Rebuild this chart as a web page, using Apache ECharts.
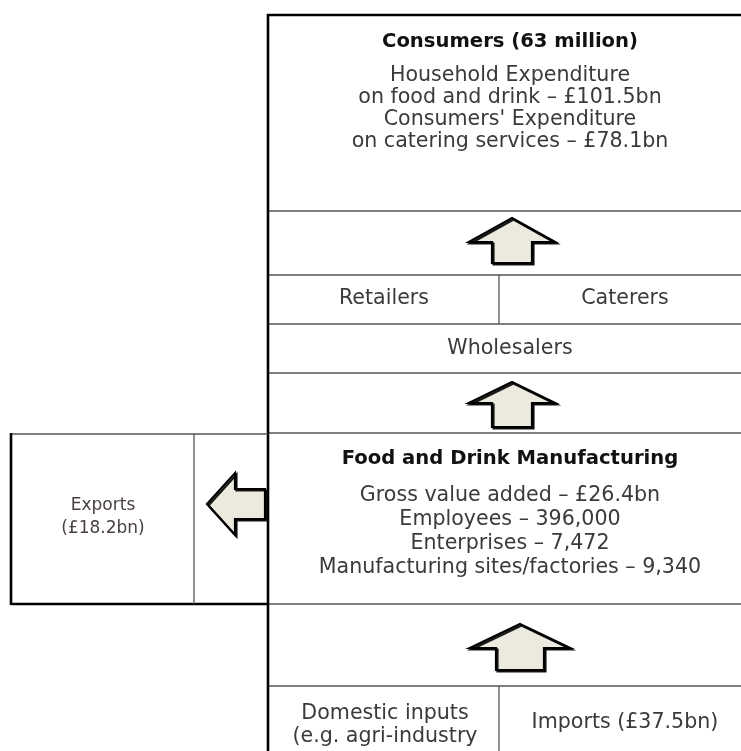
<!DOCTYPE html>
<html><head><meta charset="utf-8">
<script src="https://cdn.jsdelivr.net/npm/echarts@6/dist/echarts.min.js"></script>
<style>html,body{margin:0;padding:0;background:#fff}#c{width:741px;height:751px}</style>
</head><body><div id="c"></div><script>
// ---- text content ----
const consumersTitle = 'Consumers (63 million)';
const consumersLines = ['Household Expenditure', 'on food and drink \u2013 \u00a3101.5bn', "Consumers' Expenditure", 'on catering services \u2013 \u00a378.1bn'];
const channelLabels = ['Retailers', 'Caterers', 'Wholesalers'];
const manufTitle = 'Food and Drink Manufacturing';
const manufLines = ['Gross value added \u2013 \u00a326.4bn', 'Employees \u2013 396,000', 'Enterprises \u2013 7,472', 'Manufacturing sites/factories \u2013 9,340'];
const exportLines = ['Exports', '(\u00a318.2bn)'];
const inputLines = ['Domestic inputs', '(e.g. agri-industry', 'Imports (\u00a337.5bn)'];

// ---- diagram layout (diagram units on hidden value axes) ----
// frame segments: [x0, y0, x1, y1, heavy]
const frameSegments = [
  [267, 15, 760, 15, 1],
  [268, 211, 760, 211, 0],
  [268, 275, 760, 275, 0],
  [268, 324, 760, 324, 0],
  [268, 373, 760, 373, 0],
  [268, 433, 760, 433, 0],
  [268, 604, 760, 604, 0],
  [268, 686, 760, 686, 0],
  [268, 14, 268, 760, 1],
  [499, 275, 499, 324, 0],
  [499, 686, 499, 760, 0],
  [11, 434, 268, 434, 0],
  [11, 604, 268, 604, 1],
  [11, 433, 11, 605, 1],
  [194, 434, 194, 604, 0]
];
// up arrows: [cx, tipY, headBaseY, bottomY, headHalfW, shaftHalfW]
const upArrows = [
  [512, 218, 242, 263, 43, 20],
  [512, 382, 403, 427, 43, 20],
  [520, 624, 648, 670, 50, 24]
];
// left arrows: [tipX, cy, headBaseX, tailX, headHalfH, shaftHalfH]
const leftArrows = [
  [207, 504, 235, 265, 31, 15]
];
// text anchors: [x, y]
const consumersTitlePos = [510, 42];
const consumersLinePos = [[510, 76], [510, 98], [510, 120], [510, 142]];
const channelPos = [[384, 299], [625, 299], [510, 349]];
const manufTitlePos = [510, 459];
const manufLinePos = [[510, 496], [510, 520], [510, 544], [510, 568]];
const exportPos = [[103, 506], [103, 529]];
const inputPos = [[385, 714], [385, 737], [625, 723]];

// build text items
const textItems = [];
function addText(str, pos, kind) { textItems.push({ value: [pos[0], pos[1]], text: str, kind: kind }); }
addText(consumersTitle, consumersTitlePos, 'title');
consumersLines.forEach((s, i) => addText(s, consumersLinePos[i], 'body'));
channelLabels.forEach((s, i) => addText(s, channelPos[i], 'body'));
addText(manufTitle, manufTitlePos, 'title');
manufLines.forEach((s, i) => addText(s, manufLinePos[i], 'body'));
exportLines.forEach((s, i) => addText(s, exportPos[i], 'small'));
inputLines.forEach((s, i) => addText(s, inputPos[i], 'body'));

const textStyles = {
  title: { font: 'bold 19.6px "DejaVu Sans", sans-serif', fill: '#111' },
  body: { font: '20.6px "DejaVu Sans", sans-serif', fill: '#3a3a3a' },
  small: { font: '17px "DejaVu Sans", sans-serif', fill: '#4a4040' }
};

const chart = echarts.init(document.getElementById('c'), null, { renderer: 'canvas' });
chart.setOption({
  animation: false,
  backgroundColor: '#ffffff',
  grid: { left: 0, right: 0, top: 0, bottom: 0 },
  xAxis: { type: 'value', min: 0, max: 741, show: false },
  yAxis: { type: 'value', min: 0, max: 751, inverse: true, show: false },
  series: [
    {
      type: 'custom', name: 'frame', clip: false,
      data: frameSegments,
      renderItem: function (params, api) {
        const p0 = api.coord([api.value(0), api.value(1)]);
        const p1 = api.coord([api.value(2), api.value(3)]);
        const heavy = api.value(4) === 1;
        return {
          type: 'line',
          shape: { x1: p0[0], y1: p0[1], x2: p1[0], y2: p1[1] },
          style: { stroke: heavy ? '#000' : '#555', lineWidth: heavy ? 2.6 : 1.3 }
        };
      }
    },
    {
      type: 'custom', name: 'upArrows', clip: false,
      data: upArrows,
      renderItem: function (params, api) {
        const cx = api.value(0), tip = api.value(1), base = api.value(2), bot = api.value(3), hh = api.value(4), sh = api.value(5);
        const pts = [[cx, tip], [cx + hh, base], [cx + sh, base], [cx + sh, bot], [cx - sh, bot], [cx - sh, base], [cx - hh, base]].map(p => api.coord(p));
        return {
          type: 'polygon', shape: { points: pts },
          style: { fill: '#ECEADF', stroke: '#000', lineWidth: 2.2, lineJoin: 'miter', shadowColor: 'rgba(0,0,0,0.9)', shadowOffsetX: 1.5, shadowOffsetY: 1.5, shadowBlur: 0 }
        };
      }
    },
    {
      type: 'custom', name: 'leftArrows', clip: false,
      data: leftArrows,
      renderItem: function (params, api) {
        const tx = api.value(0), cy = api.value(1), bx = api.value(2), rx = api.value(3), hh = api.value(4), sh = api.value(5);
        const pts = [[tx, cy], [bx, cy - hh], [bx, cy - sh], [rx, cy - sh], [rx, cy + sh], [bx, cy + sh], [bx, cy + hh]].map(p => api.coord(p));
        return {
          type: 'polygon', shape: { points: pts },
          style: { fill: '#ECEADF', stroke: '#000', lineWidth: 2.2, lineJoin: 'miter', shadowColor: 'rgba(0,0,0,0.9)', shadowOffsetX: 1.5, shadowOffsetY: 1.5, shadowBlur: 0 }
        };
      }
    },
    {
      type: 'custom', name: 'labels', clip: false,
      data: textItems,
      renderItem: function (params, api) {
        const item = textItems[params.dataIndex];
        const p = api.coord([api.value(0), api.value(1)]);
        const st = textStyles[item.kind];
        return {
          type: 'text', x: p[0], y: p[1],
          style: { text: item.text, font: st.font, fill: st.fill, align: 'center', verticalAlign: 'middle' }
        };
      }
    }
  ]
});
</script></body></html>
